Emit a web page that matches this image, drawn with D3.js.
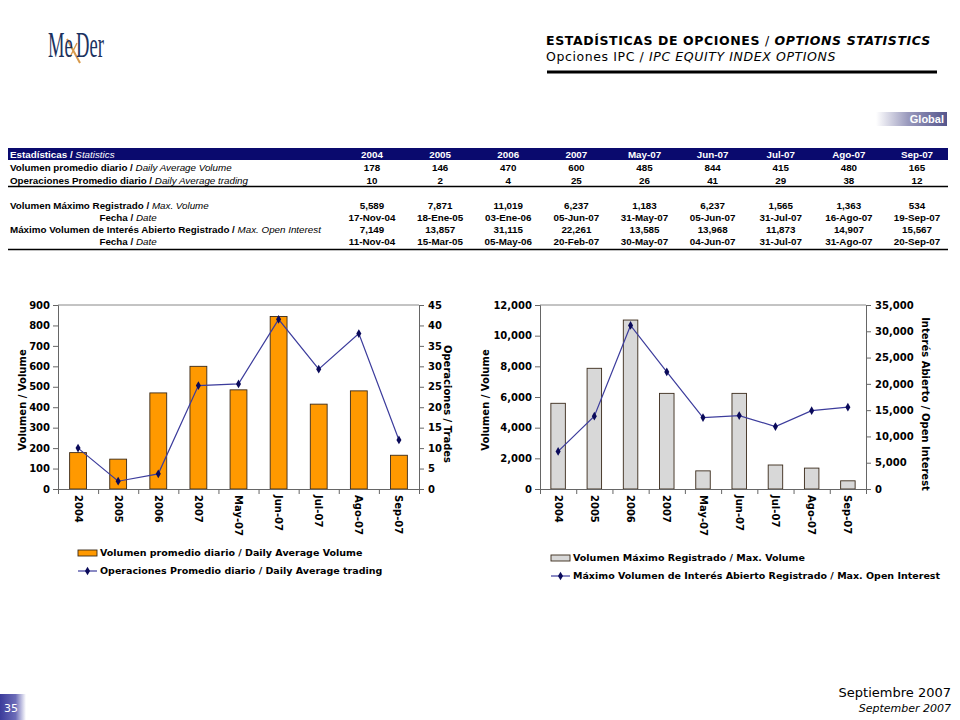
<!DOCTYPE html>
<html>
<head>
<meta charset="utf-8">
<title>MexDer Opciones IPC</title>
<script src="https://d3js.org/d3.v7.min.js"></script>
<style>
  body { margin: 0; background: #fff; }
  svg text { font-family: "DejaVu Sans", Verdana, sans-serif; }
  .tbl text { font-family: "Liberation Sans Narrow", "Liberation Sans", Arial, sans-serif; font-size: 9.8px; }
</style>
</head>
<body>
<script>
// ---- data ----
var categories = ["2004", "2005", "2006", "2007", "May-07", "Jun-07", "Jul-07", "Ago-07", "Sep-07"];
var avgVolume = [178, 146, 470, 600, 485, 844, 415, 480, 165];
var avgTrading = [10, 1.9, 3.7, 25.3, 25.7, 41.5, 29.3, 38, 12];
var avgTradingTable = [10, 2, 4, 25, 26, 41, 29, 38, 12];
var maxVolume = [5589, 7871, 11019, 6237, 1183, 6237, 1565, 1363, 534];
var maxVolumeDates = ["17-Nov-04", "18-Ene-05", "03-Ene-06", "05-Jun-07", "31-May-07", "05-Jun-07", "31-Jul-07", "16-Ago-07", "19-Sep-07"];
var maxOpenInterest = [7149, 13857, 31115, 22261, 13585, 13968, 11873, 14907, 15567];
var maxOpenInterestDates = ["11-Nov-04", "15-Mar-05", "05-May-06", "20-Feb-07", "30-May-07", "04-Jun-07", "31-Jul-07", "31-Ago-07", "20-Sep-07"];
var leftTicksA = [0, 100, 200, 300, 400, 500, 600, 700, 800, 900];
var rightTicksA = [0, 5, 10, 15, 20, 25, 30, 35, 40, 45];
var leftTicksB = [0, 2000, 4000, 6000, 8000, 10000, 12000];
var rightTicksB = [0, 5000, 10000, 15000, 20000, 25000, 30000, 35000];

var fmt = d3.format(",");

var svg = d3.select("body").append("svg")
    .attr("width", 960)
    .attr("height", 720);

var defs = svg.append("defs");
var g1 = defs.append("linearGradient").attr("id", "globalGrad");
g1.append("stop").attr("offset", "0%").attr("stop-color", "#ffffff");
g1.append("stop").attr("offset", "45%").attr("stop-color", "#9a9abd");
g1.append("stop").attr("offset", "100%").attr("stop-color", "#55558c");
var g2 = defs.append("linearGradient").attr("id", "pageGrad");
g2.append("stop").attr("offset", "0%").attr("stop-color", "#3b3b9b");
g2.append("stop").attr("offset", "60%").attr("stop-color", "#6c6cb8");
g2.append("stop").attr("offset", "100%").attr("stop-color", "#ffffff");

// ---- logo ----
var logo = svg.append("g");
logo.append("line").attr("x1", 67).attr("y1", 39).attr("x2", 80).attr("y2", 63)
    .attr("stroke", "#d89a4c").attr("stroke-width", 2);
logo.append("line").attr("x1", 77).attr("y1", 43).attr("x2", 70).attr("y2", 57)
    .attr("stroke", "#d89a4c").attr("stroke-width", 1.4);
var logoText = logo.append("g").attr("transform", "translate(48,57) scale(0.53,1)");
logoText.append("text").attr("x", 0).attr("y", 0)
    .style("font-family", "'Liberation Serif', 'DejaVu Serif', serif")
    .style("font-size", "35px").attr("fill", "#1b3260").text("Me");
logoText.append("text").attr("x", 53).attr("y", 0)
    .style("font-family", "'Liberation Serif', 'DejaVu Serif', serif")
    .style("font-size", "35px").attr("fill", "#1b3260").text("Der");

// ---- header ----
var t1 = svg.append("text").attr("x", 546).attr("y", 45)
    .style("font-size", "12.5px").style("letter-spacing", "0.6px")
    .style("font-weight", "bold").attr("fill", "#000");
t1.append("tspan").text("ESTADÍSTICAS DE OPCIONES ");
t1.append("tspan").style("font-weight", "normal").text("/ ");
t1.append("tspan").style("font-style", "italic").text("OPTIONS STATISTICS");

var t2 = svg.append("text").attr("x", 546).attr("y", 61)
    .style("font-size", "12.5px").style("letter-spacing", "0.6px").attr("fill", "#000");
t2.append("tspan").text("Opciones IPC / ");
t2.append("tspan").style("font-style", "italic").text("IPC EQUITY INDEX OPTIONS");

svg.append("line").attr("x1", 547).attr("x2", 937).attr("y1", 72).attr("y2", 72)
    .attr("stroke", "#000").attr("stroke-width", 3);

// ---- Global tag ----
svg.append("rect").attr("x", 876).attr("y", 112).attr("width", 71).attr("height", 14)
    .attr("fill", "url(#globalGrad)");
svg.append("text").attr("x", 944).attr("y", 123).attr("text-anchor", "end")
    .style("font-family", "'Liberation Sans', Arial, sans-serif")
    .style("font-size", "11px").style("font-weight", "bold").attr("fill", "#fff").text("Global");

// ---- table ----
var tbl = svg.append("g").attr("class", "tbl");
var colX = d3.scalePoint().domain(categories).range([372, 917]);

tbl.append("rect").attr("x", 8).attr("y", 148).attr("width", 940).attr("height", 12).attr("fill", "#0a0a6e");
var hdr = tbl.append("text").attr("x", 10).attr("y", 157.5).attr("fill", "#fff");
hdr.append("tspan").style("font-weight", "bold").text("Estadísticas / ");
hdr.append("tspan").style("font-style", "italic").text("Statistics");
tbl.selectAll(".colhead").data(categories).enter().append("text")
    .attr("x", function(d) { return colX(d); }).attr("y", 157.5)
    .attr("text-anchor", "middle").attr("fill", "#fff").style("font-weight", "bold")
    .text(function(d) { return d; });

var rows = [
  { es: "Volumen promedio diario / ", en: "Daily Average Volume", vals: avgVolume.map(fmt), y: 171, center: false },
  { es: "Operaciones Promedio diario / ", en: "Daily  Average trading", vals: avgTradingTable.map(fmt), y: 183.5, center: false },
  { es: "Volumen Máximo Registrado / ", en: "Max. Volume", vals: maxVolume.map(fmt), y: 209, center: false },
  { es: "Fecha / ", en: "Date", vals: maxVolumeDates, y: 221, center: true },
  { es: "Máximo Volumen de Interés Abierto Registrado / ", en: "Max. Open Interest", vals: maxOpenInterest.map(fmt), y: 233, center: false },
  { es: "Fecha / ", en: "Date", vals: maxOpenInterestDates, y: 245, center: true }
];
rows.forEach(function(r) {
  var lab = tbl.append("text")
      .attr("x", r.center ? 128 : 10).attr("y", r.y)
      .attr("text-anchor", r.center ? "middle" : "start").attr("fill", "#000");
  lab.append("tspan").style("font-weight", "bold").text(r.es);
  lab.append("tspan").style("font-style", "italic").text(r.en);
  tbl.selectAll(null).data(r.vals).enter().append("text")
      .attr("x", function(d, i) { return colX(categories[i]); }).attr("y", r.y)
      .attr("text-anchor", "middle").style("font-weight", "bold").attr("fill", "#000")
      .text(function(d) { return d; });
});
tbl.append("line").attr("x1", 8).attr("x2", 948).attr("y1", 186.5).attr("y2", 186.5).attr("stroke", "#000").attr("stroke-width", 1.6);
tbl.append("line").attr("x1", 8).attr("x2", 948).attr("y1", 249.5).attr("y2", 249.5).attr("stroke", "#000").attr("stroke-width", 1.6);

// ---- combo charts ----
function comboChart(o) {
  var g = svg.append("g");
  var x = d3.scaleBand().domain(categories).range([o.x0, o.x1])
      .paddingInner(o.pad).paddingOuter(o.pad / 2);
  var idx = d3.scaleLinear().domain([0, categories.length]).range([o.x0, o.x1]);
  var yL = d3.scaleLinear().domain([0, d3.max(o.leftTicks)]).range([o.y1, o.y0]);
  var yR = d3.scaleLinear().domain([0, d3.max(o.rightTicks)]).range([o.y1, o.y0]);

  // plot frame top
  g.append("line").attr("x1", o.x0).attr("x2", o.x1).attr("y1", o.y0).attr("y2", o.y0)
      .attr("stroke", "#888").attr("stroke-width", 1);

  // bars
  g.selectAll(".bar").data(o.bars).enter().append("rect")
      .attr("x", function(d, i) { return x(categories[i]); })
      .attr("y", function(d) { return yL(d); })
      .attr("width", x.bandwidth())
      .attr("height", function(d) { return o.y1 - yL(d); })
      .attr("fill", o.barColor)
      .attr("stroke", "#3a2a1a").attr("stroke-width", 0.9);

  // axes
  var axL = g.append("g").attr("transform", "translate(" + o.x0 + ",0)")
      .call(d3.axisLeft(yL).tickValues(o.leftTicks).tickSize(5).tickPadding(3).tickFormat(o.fmt));
  var axR = g.append("g").attr("transform", "translate(" + o.x1 + ",0)")
      .call(d3.axisRight(yR).tickValues(o.rightTicks).tickSize(5).tickPadding(4).tickFormat(fmt));
  var axB = g.append("g").attr("transform", "translate(0," + o.y1 + ")")
      .call(d3.axisBottom(idx).tickValues(d3.range(categories.length + 1)).tickSize(5).tickFormat(""));
  [axL, axR, axB].forEach(function(a) {
    a.select(".domain").attr("stroke", "#666");
    a.selectAll(".tick line").attr("stroke", "#666");
    a.selectAll("text").style("font-family", "'DejaVu Sans', Verdana, sans-serif")
        .style("font-size", "10px").style("font-weight", "bold").attr("fill", "#000");
  });

  // category labels rotated
  g.selectAll(".xlab").data(categories).enter().append("text")
      .attr("transform", function(d) { return "translate(" + (x(d) + x.bandwidth() / 2) + "," + (o.y1 + 6) + ") rotate(90)"; })
      .attr("dy", "0.35em")
      .style("font-size", "10px").style("font-weight", "bold").attr("fill", "#000")
      .text(function(d) { return d; });

  // line
  var pts = o.line.map(function(v, i) { return [x(categories[i]) + x.bandwidth() / 2, yR(v)]; });
  g.append("path").attr("d", d3.line()(pts))
      .attr("fill", "none").attr("stroke", "#3c3c9c").attr("stroke-width", 1.2);
  g.selectAll(".mk").data(pts).enter().append("path")
      .attr("d", d3.symbol(d3.symbolDiamond).size(22))
      .attr("transform", function(p) { return "translate(" + p[0] + "," + p[1] + ")"; })
      .attr("fill", "#0a0a5a");

  // axis titles
  g.append("text")
      .attr("transform", "translate(" + o.ltX + "," + ((o.y0 + o.y1) / 2 + 3) + ") rotate(-90)")
      .attr("text-anchor", "middle").attr("dy", "0.35em")
      .style("font-size", "10px").style("font-weight", "bold").text(o.leftTitle);
  g.append("text")
      .attr("transform", "translate(" + o.rtX + "," + ((o.y0 + o.y1) / 2 + 7) + ") rotate(90)")
      .attr("text-anchor", "middle").attr("dy", "0.35em")
      .style("font-size", "10px").style("font-weight", "bold").text(o.rightTitle);

  // legend
  g.append("rect").attr("x", o.legX).attr("y", o.legY - 3).attr("width", 19).attr("height", 6)
      .attr("fill", o.barColor).attr("stroke", "#3a2a1a").attr("stroke-width", 0.9);
  g.append("text").attr("x", o.legX + 22).attr("y", o.legY).attr("dy", "0.35em")
      .style("font-size", "9.5px").style("font-weight", "bold").text(o.barLabel);
  g.append("line").attr("x1", o.legX).attr("x2", o.legX + 19)
      .attr("y1", o.legY + o.legGap).attr("y2", o.legY + o.legGap)
      .attr("stroke", "#3c3c9c").attr("stroke-width", 1.2);
  g.append("path").attr("d", d3.symbol(d3.symbolDiamond).size(22))
      .attr("transform", "translate(" + (o.legX + 9.5) + "," + (o.legY + o.legGap) + ")")
      .attr("fill", "#0a0a5a");
  g.append("text").attr("x", o.legX + 22).attr("y", o.legY + o.legGap).attr("dy", "0.35em")
      .style("font-size", "9.5px").style("font-weight", "bold").text(o.lineLabel);
}

comboChart({
  x0: 58, x1: 419, y0: 305, y1: 489, pad: 0.58,
  bars: avgVolume, line: avgTrading,
  leftTicks: leftTicksA, rightTicks: rightTicksA, fmt: d3.format("d"),
  barColor: "#ff9900",
  leftTitle: "Volumen / Volume", rightTitle: "Operaciones / Trades", ltX: 22, rtX: 447,
  legX: 78, legY: 553, legGap: 18,
  barLabel: "Volumen promedio diario / Daily Average Volume",
  lineLabel: "Operaciones Promedio diario / Daily Average trading"
});

comboChart({
  x0: 540, x1: 866, y0: 305, y1: 489, pad: 0.6,
  bars: maxVolume, line: maxOpenInterest,
  leftTicks: leftTicksB, rightTicks: rightTicksB, fmt: fmt,
  barColor: "#d8d8d8",
  leftTitle: "Volumen / Volume", rightTitle: "Interés Abierto / Open Interest", ltX: 485, rtX: 925,
  legX: 551, legY: 558, legGap: 18,
  barLabel: "Volumen Máximo Registrado / Max. Volume",
  lineLabel: "Máximo Volumen de Interés Abierto Registrado / Max. Open Interest"
});

// ---- footer ----
svg.append("rect").attr("x", 0).attr("y", 694).attr("width", 26).attr("height", 26).attr("fill", "url(#pageGrad)");
svg.append("text").attr("x", 11).attr("y", 712).attr("text-anchor", "middle")
    .style("font-size", "11px").attr("fill", "#fff").text("35");
svg.append("text").attr("x", 951).attr("y", 697).attr("text-anchor", "end")
    .style("font-size", "13px").attr("fill", "#000").text("Septiembre 2007");
svg.append("text").attr("x", 951).attr("y", 712).attr("text-anchor", "end")
    .style("font-size", "11px").style("font-style", "italic").attr("fill", "#000").text("September 2007");
</script>
</body>
</html>
